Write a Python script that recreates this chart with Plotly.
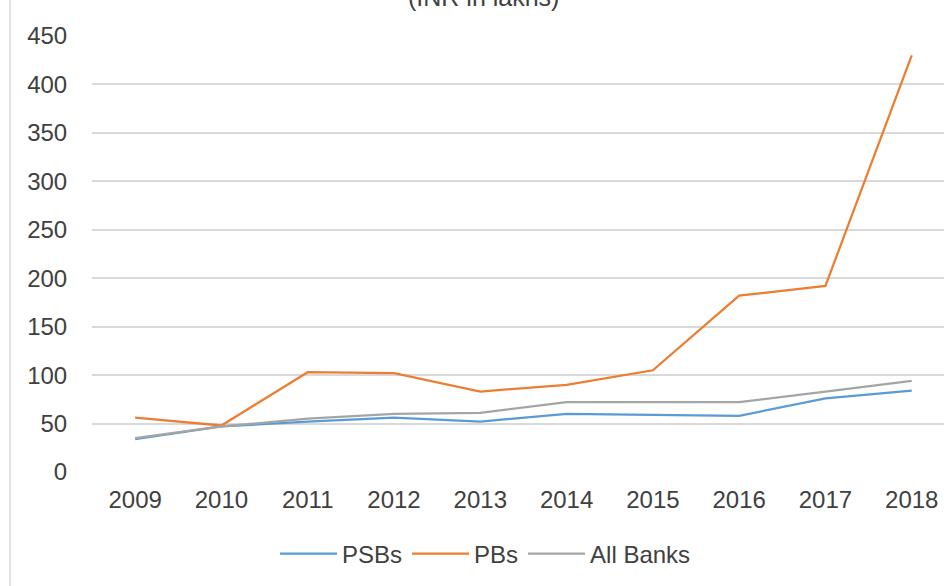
import plotly.graph_objects as go

years = ["2009", "2010", "2011", "2012", "2013", "2014", "2015", "2016", "2017", "2018"]
psbs = [34, 47, 52, 56, 52, 60, 59, 58, 76, 84]
pbs = [56, 48, 103, 102, 83, 90, 105, 182, 192, 430]
all_banks = [35, 47, 55, 60, 61, 72, 72, 72, 83, 94]
y_ticks = [0, 50, 100, 150, 200, 250, 300, 350, 400, 450]

FONT = "Liberation Sans, Arial, sans-serif"
TXT = "#404040"

fig = go.Figure()
fig.add_trace(go.Scatter(x=years, y=psbs, name="PSBs", mode="lines",
                         line=dict(color="#5b9bd5", width=2.25)))
fig.add_trace(go.Scatter(x=years, y=pbs, name="PBs", mode="lines",
                         line=dict(color="#ed7d31", width=2.25)))
fig.add_trace(go.Scatter(x=years, y=all_banks, name="All Banks", mode="lines",
                         line=dict(color="#a5a5a5", width=2.25)))

fig.update_layout(
    width=944, height=586,
    margin=dict(l=92, r=0, t=36, b=114),
    paper_bgcolor="white", plot_bgcolor="white",
    font=dict(family=FONT, size=24, color=TXT),
    showlegend=True,
    legend=dict(orientation="h", x=0.2148, xanchor="left", y=-0.188, yanchor="middle",
                itemwidth=57, font=dict(size=24, color=TXT), bgcolor="rgba(0,0,0,0)",
                tracegroupgap=0),
    xaxis=dict(type="category", range=[-0.5, 9.374], showgrid=False, zeroline=False,
               showline=False, ticks="outside", ticklen=6, tickcolor="rgba(0,0,0,0)",
               tickfont=dict(size=24, color=TXT)),
    yaxis=dict(range=[0, 450], tickvals=y_ticks, showgrid=True, gridcolor="#d9d9d9",
               gridwidth=1.5, zeroline=False, showline=False, ticks="outside", ticklen=19,
               tickcolor="rgba(0,0,0,0)", tickfont=dict(size=24, color=TXT)),
    annotations=[dict(text="(INR in lakhs)", xref="paper", yref="paper", x=0.4595,
                      y=1.0888, xanchor="center", yanchor="middle", showarrow=False,
                      font=dict(size=25, color=TXT))],
    shapes=[dict(type="line", xref="paper", yref="paper", x0=-0.0962, x1=-0.0962,
                 y0=-0.2615, y1=1.0819, line=dict(color="#d9d9d9", width=1.5))],
)

fig.write_html("out.html")
